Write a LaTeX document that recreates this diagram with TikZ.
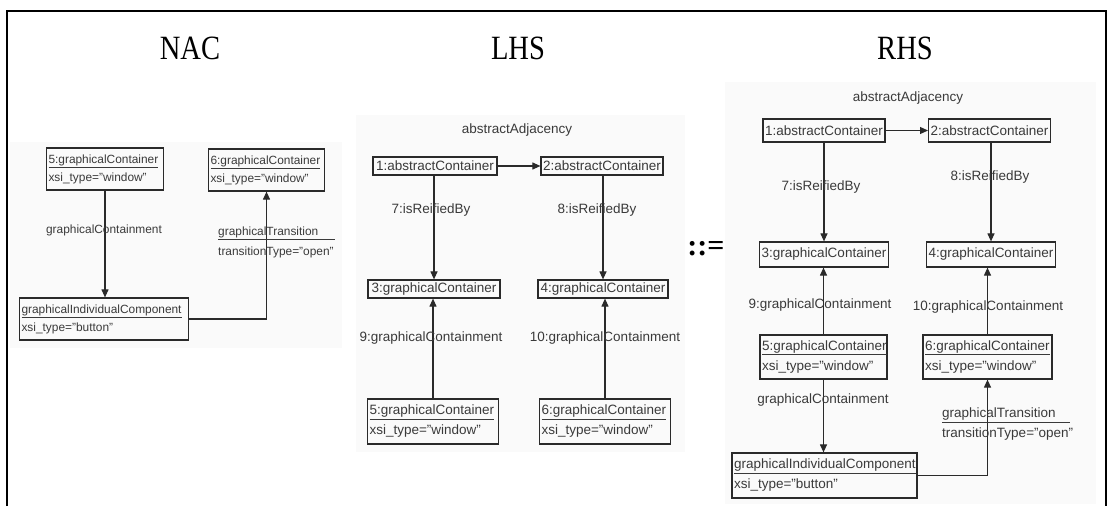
\documentclass[tikz,border=0pt]{standalone}
\usepackage{fontspec}
\setmainfont{Liberation Serif}
\setsansfont{Liberation Sans}
\usetikzlibrary{arrows.meta}
\definecolor{txtc}{HTML}{3A3A3A}
\definecolor{linec}{HTML}{2A2A2A}
\definecolor{panelbg}{HTML}{FAFAFA}
\tikzset{
  title/.style={font=\rmfamily\fontsize{34}{36}\selectfont, text=black, xscale=0.84, transform shape, inner sep=0},
  obj/.style={draw=linec, line width=1.2pt, inner sep=2pt, text=txtc, font=\sffamily\fontsize{13.5}{20}\selectfont},
  objn/.style={obj, font=\sffamily\fontsize{11.9}{18}\selectfont},
  lbl/.style={text=txtc, inner sep=1pt, font=\sffamily\fontsize{13.5}{20}\selectfont},
  lbln/.style={lbl, font=\sffamily\fontsize{11.9}{20}\selectfont},
  conn/.style={draw=linec, line width=1.1pt},
  arr/.style={conn, -{Triangle[length=8pt,width=7pt]}},
  frame/.style={draw=black, line width=2pt}
}
\begin{document}
\begin{tikzpicture}[x=1pt,y=-1pt]
\useasboundingbox (0,0) rectangle (1108,506);
% panel backgrounds
\fill[panelbg] (10,142) rectangle (342,348);
\fill[panelbg] (356,115) rectangle (685,452);
\fill[panelbg] (725,82) rectangle (1096,504);
% frame
\draw[frame] (7,506) -- (7,11) -- (1106,11) -- (1106,506);
% titles
\node[title] (tnac) at (190,48) {NAC};
\node[title] (tlhs) at (518,48) {LHS};
\node[title] (trhs) at (905,48) {RHS};
\node[font=\rmfamily\bfseries\fontsize{30}{32}\selectfont, inner sep=0] (prod) at (706,249) {::=};

% ---------------- NAC ----------------
\node[objn, text width=113pt, minimum height=42pt, align=left] (n5) at (105,169)
  {\underline{5:graphicalContainer}\\xsi\_type="window"};
\node[objn, text width=112pt, minimum height=42pt, align=left] (n6) at (266.5,170)
  {\underline{6:graphicalContainer}\\xsi\_type="window"};
\node[objn, text width=165pt, minimum height=42pt, align=left] (ngic) at (104,319)
  {\underline{graphicalIndividualComponent}\\xsi\_type="button"};
\draw[arr] (n5.south) -- (n5.south |- ngic.north);
\node[lbln] (ncont) at (104,230) {graphicalContainment};
\draw[arr] (ngic.east) -| (n6.south);
\node[lbln, anchor=north west, align=left] (ntrans) at (217,226)
  {\underline{\makebox[117pt][l]{graphicalTransition}}\\transitionType="open"};

% ---------------- LHS ----------------
\node[lbl] (ladj) at (517,130) {abstractAdjacency};
\node[obj, minimum width=124pt, minimum height=18pt] (la1) at (435,166) {1:abstractContainer};
\node[obj, minimum width=122pt, minimum height=18pt] (la2) at (602,166) {2:abstractContainer};
\node[obj, minimum width=132pt, minimum height=18pt] (lg3) at (434,289) {3:graphicalContainer};
\node[obj, minimum width=130pt, minimum height=18pt] (lg4) at (603,289) {4:graphicalContainer};
\node[obj, text width=127pt, minimum height=45pt, align=left] (lw5) at (433,421.5)
  {\underline{5:graphicalContainer}\\xsi\_type="window"};
\node[obj, text width=127pt, minimum height=45pt, align=left] (lw6) at (605,421.5)
  {\underline{6:graphicalContainer}\\xsi\_type="window"};
\draw[arr] (la1.east) -- (la2.west);
\draw[arr] (lg3.north |- la1.south) -- (lg3.north);
\draw[arr] (lg4.north |- la2.south) -- (lg4.north);
\draw[arr] (lw5.north) -- (lw5.north |- lg3.south);
\draw[arr] (lw6.north) -- (lw6.north |- lg4.south);
\node[lbl] (l7) at (431,210) {7:isReifiedBy};
\node[lbl] (l8) at (597,210) {8:isReifiedBy};
\node[lbl] (l9) at (431,338) {9:graphicalContainment};
\node[lbl] (l10) at (605,338) {10:graphicalContainment};

% ---------------- RHS ----------------
\node[lbl] (radj) at (908,98) {abstractAdjacency};
\node[obj, minimum width=122pt, minimum height=23pt] (ra1) at (824,130.5) {1:abstractContainer};
\node[obj, minimum width=121pt, minimum height=23pt] (ra2) at (989.5,130.5) {2:abstractContainer};
\node[obj, minimum width=128pt, minimum height=25pt] (rg3) at (824,254.5) {3:graphicalContainer};
\node[obj, minimum width=128pt, minimum height=25pt] (rg4) at (991,254.5) {4:graphicalContainer};
\node[obj, text width=123pt, minimum height=44pt, align=left] (rw5) at (823.5,357)
  {\underline{5:graphicalContainer}\\xsi\_type="window"};
\node[obj, text width=125pt, minimum height=44pt, align=left] (rw6) at (987.5,357)
  {\underline{6:graphicalContainer}\\xsi\_type="window"};
\node[obj, text width=181pt, minimum height=45pt, align=left] (rgic) at (824.5,475.5)
  {\underline{graphicalIndividualComponent}\\xsi\_type="button"};
\draw[arr] (ra1.east) -- (ra2.west);
\draw[arr] (ra1.south) -- (ra1.south |- rg3.north);
\draw[arr] (rg4.north |- ra2.south) -- (rg4.north);
\draw[arr] (rw5.north) -- (rw5.north |- rg3.south);
\draw[arr] (rw6.north) -- (rw6.north |- rg4.south);
\draw[arr] (rw5.south) -- (rw5.south |- rgic.north);
\draw[arr] (rgic.east) -| (rw6.south);
\node[lbl] (r7) at (821,187) {7:isReifiedBy};
\node[lbl] (r8) at (990,177) {8:isReifiedBy};
\node[lbl] (r9) at (820,305) {9:graphicalContainment};
\node[lbl] (r10) at (988,307) {10:graphicalContainment};
\node[lbl] (rcont) at (823,400) {graphicalContainment};
\node[lbl, anchor=north west, align=left] (rtrans) at (941,407)
  {\underline{\makebox[128pt][l]{graphicalTransition}}\\transitionType="open"};
\end{tikzpicture}
\end{document}
